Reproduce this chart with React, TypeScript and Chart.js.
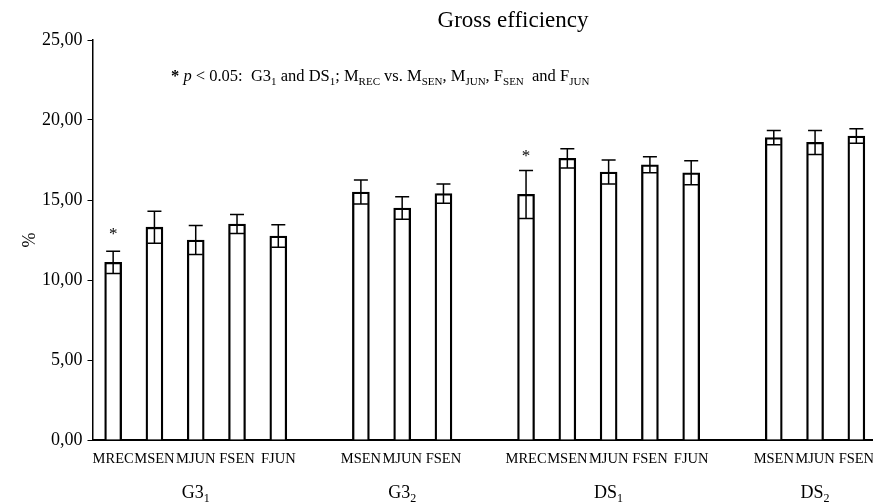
import React, { useEffect, useRef } from "react";
import { Chart, registerables } from "chart.js";

Chart.register(...registerables);

const FONT = "'Liberation Serif', 'Times New Roman', serif";

// ---- data ----
const titleText = "Gross efficiency";
const yAxisTitle = "%";
const yMin = 0;
const yMax = 25;
const yStep = 5;

const groupNames = ["G3", "G3", "DS", "DS"];
const groupSubs = ["1", "2", "1", "2"];

const g31Cats = ["MREC", "MSEN", "MJUN", "FSEN", "FJUN"];
const g31Means = [11.1, 13.3, 12.5, 13.5, 12.75];
const g31Errs = [0.7, 1.0, 0.9, 0.6, 0.7];
const g31Sig = [13.15, null, null, null, null];

const g32Cats = ["MSEN", "MJUN", "FSEN"];
const g32Means = [15.5, 14.5, 15.4];
const g32Errs = [0.75, 0.7, 0.6];
const g32Sig = [null, null, null];

const ds1Cats = ["MREC", "MSEN", "MJUN", "FSEN", "FJUN"];
const ds1Means = [15.35, 17.6, 16.75, 17.2, 16.7];
const ds1Errs = [1.5, 0.6, 0.75, 0.5, 0.75];
const ds1Sig = [18.0, null, null, null, null];

const ds2Cats = ["MSEN", "MJUN", "FSEN"];
const ds2Means = [18.9, 18.6, 19.0];
const ds2Errs = [0.45, 0.75, 0.45];
const ds2Sig = [null, null, null];

// annotation: [text, style] style: n = normal, b = bold, i = italic, s = subscript
const noteSegments: [string, string][] = [
  ["*", "b"], [" ", "n"], ["p", "i"], [" < 0.05:  G3", "n"], ["1", "s"],
  [" and DS", "n"], ["1", "s"], ["; M", "n"], ["REC", "s"], [" vs. M", "n"],
  ["SEN", "s"], [", M", "n"], ["JUN", "s"], [", F", "n"], ["SEN", "s"],
  ["  and F", "n"], ["JUN", "s"],
];

// ---- build flat tables ----
const groupCats = [g31Cats, g32Cats, ds1Cats, ds2Cats];
const groupMeans = [g31Means, g32Means, ds1Means, ds2Means];
const groupErrs = [g31Errs, g32Errs, ds1Errs, ds2Errs];
const groupSig = [g31Sig, g32Sig, ds1Sig, ds2Sig];

const labels: string[] = [];
const means: (number | null)[] = [];
const errs: (number | null)[] = [];
const sigs: (number | null)[] = [];
const groupStart: number[] = [];
const groupEnd: number[] = [];
groupCats.forEach((cats, g) => {
  if (g > 0) {
    labels.push("");
    means.push(null);
    errs.push(null);
    sigs.push(null);
  }
  groupStart.push(labels.length);
  cats.forEach((c, i) => {
    labels.push(c);
    means.push(groupMeans[g][i]);
    errs.push(groupErrs[g][i]);
    sigs.push(groupSig[g][i]);
  });
  groupEnd.push(labels.length - 1);
});

function segFont(style: string, size: number, subSize: number) {
  if (style === "b") return `bold ${size}px ${FONT}`;
  if (style === "i") return `italic ${size}px ${FONT}`;
  if (style === "s") return `${subSize}px ${FONT}`;
  return `${size}px ${FONT}`;
}

function drawRich(
  ctx: CanvasRenderingContext2D,
  segs: [string, string][],
  x: number,
  y: number,
  size: number,
  subSize: number,
  align: "left" | "center"
) {
  let total = 0;
  const widths = segs.map(([t, s]) => {
    ctx.font = segFont(s, size, subSize);
    const w = ctx.measureText(t).width;
    total += w;
    return w;
  });
  let cx = align === "center" ? x - total / 2 : x;
  ctx.textAlign = "left";
  ctx.textBaseline = "alphabetic";
  segs.forEach(([t, s], i) => {
    ctx.font = segFont(s, size, subSize);
    ctx.fillText(t, cx, s === "s" ? y + size * 0.22 : y);
    cx += widths[i];
  });
}

const decorPlugin = {
  id: "decor",
  afterDatasetsDraw(chart: any) {
    const ctx: CanvasRenderingContext2D = chart.ctx;
    const ys = chart.scales.y;
    const meta = chart.getDatasetMeta(0);
    ctx.save();
    ctx.strokeStyle = "#000";
    ctx.fillStyle = "#000";
    ctx.lineWidth = 1.5;
    // error bars
    means.forEach((m, i) => {
      const e = errs[i];
      if (m == null || e == null) return;
      const x = meta.data[i].x;
      const yt = ys.getPixelForValue(m + e);
      const yb = ys.getPixelForValue(m - e);
      ctx.beginPath();
      ctx.moveTo(x, yt);
      ctx.lineTo(x, yb);
      ctx.moveTo(x - 7, yt);
      ctx.lineTo(x + 7, yt);
      ctx.moveTo(x - 7, yb);
      ctx.lineTo(x + 7, yb);
      ctx.stroke();
    });
    // significance asterisks
    ctx.font = `17px ${FONT}`;
    ctx.textAlign = "center";
    ctx.textBaseline = "alphabetic";
    sigs.forEach((s, i) => {
      if (s == null) return;
      const x = meta.data[i].x;
      ctx.fillText("*", x, ys.getPixelForValue(s) + 9);
    });
    ctx.restore();
  },
  afterDraw(chart: any) {
    const ctx: CanvasRenderingContext2D = chart.ctx;
    const xs = chart.scales.x;
    const area = chart.chartArea;
    ctx.save();
    ctx.fillStyle = "#000";
    // title
    ctx.font = `23px ${FONT}`;
    ctx.textAlign = "center";
    ctx.textBaseline = "alphabetic";
    ctx.fillText(titleText, 513, 27);
    // y axis title
    ctx.save();
    ctx.translate(30, (area.top + area.bottom) / 2);
    ctx.rotate(-Math.PI / 2);
    ctx.font = `18px ${FONT}`;
    ctx.textAlign = "center";
    ctx.textBaseline = "middle";
    ctx.fillText(yAxisTitle, 0, 0);
    ctx.restore();
    // annotation
    drawRich(ctx, noteSegments, 171, 81, 16.5, 11, "left");
    // group labels
    groupNames.forEach((n, g) => {
      const cx =
        (xs.getPixelForValue(groupStart[g]) + xs.getPixelForValue(groupEnd[g])) / 2;
      drawRich(ctx, [[n, "n"], [groupSubs[g], "s"]], cx, 498, 18, 12, "center");
    });
    ctx.restore();
  },
};

export default function App() {
  const ref = useRef<HTMLCanvasElement>(null);
  useEffect(() => {
    if (!ref.current) return;
    const chart = new Chart(ref.current, {
      type: "bar",
      data: {
        labels,
        datasets: [
          {
            data: means as any,
            backgroundColor: "#fff",
            borderColor: "#000",
            borderWidth: 2.3,
            barThickness: 17,
          },
        ],
      },
      options: {
        responsive: false,
        animation: false,
        layout: { padding: { top: 40, right: 8, left: 0, bottom: 0 } },
        plugins: {
          legend: { display: false },
          tooltip: { enabled: false },
          title: { display: false },
        },
        scales: {
          x: {
            z: 1,
            offset: true,
            grid: { display: false, drawTicks: false },
            border: { display: true, color: "#000", width: 2 },
            ticks: {
              autoSkip: false,
              maxRotation: 0,
              minRotation: 0,
              padding: 10,
              color: "#000",
              font: { family: FONT, size: 14.5 },
            },
            afterFit: (s: any) => {
              s.height = 64;
            },
          },
          y: {
            min: yMin,
            max: yMax,
            grid: {
              display: true,
              drawOnChartArea: false,
              drawTicks: true,
              tickLength: 5,
              color: "#000",
              lineWidth: 1,
            },
            border: { display: true, color: "#000", width: 1.5 },
            ticks: {
              stepSize: yStep,
              padding: 5,
              color: "#000",
              font: { family: FONT, size: 18 },
              callback: (v: any) => Number(v).toFixed(2).replace(".", ","),
            },
            afterFit: (s: any) => {
              s.width = 92.5;
            },
          },
        },
      },
      plugins: [decorPlugin],
    });
    return () => chart.destroy();
  }, []);
  return (
    <div
      style={{
        position: "fixed",
        left: 0,
        top: 0,
        width: 873,
        height: 504,
        overflow: "hidden",
        background: "#fff",
      }}
    >
      <canvas ref={ref} width={885} height={504} style={{ width: 885, height: 504 }} />
    </div>
  );
}
